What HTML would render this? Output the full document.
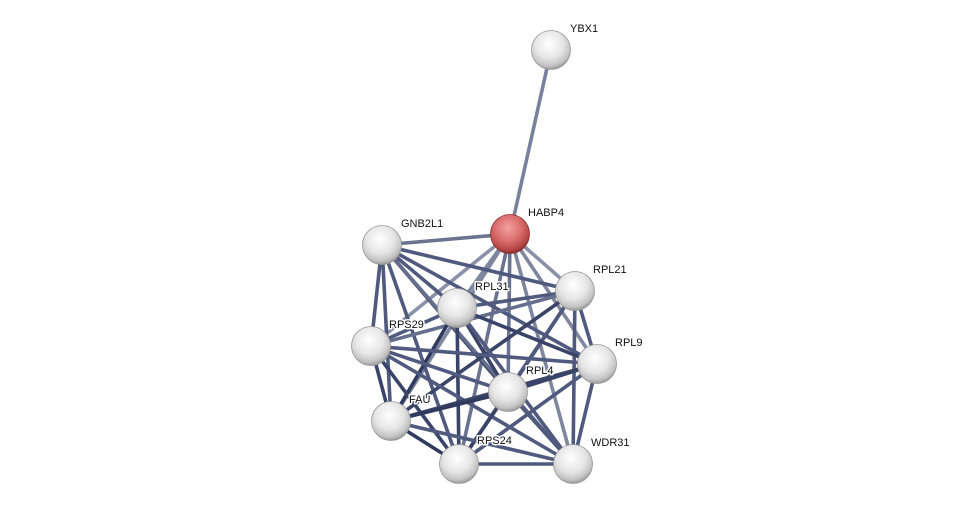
<!DOCTYPE html>
<html><head><meta charset="utf-8"><style>
html,body{margin:0;padding:0;background:#fff;}
svg{display:block}
text{font-family:"Liberation Sans",sans-serif;font-size:11px;fill:#111;stroke:#fff;stroke-width:3px;paint-order:stroke;stroke-linejoin:round}
</style></head><body>
<svg width="975" height="510" viewBox="0 0 975 510" xmlns="http://www.w3.org/2000/svg">
<defs>
<radialGradient id="w" cx="45%" cy="35%" r="65%">
<stop offset="0" stop-color="#ffffff"/><stop offset="0.55" stop-color="#e6e6e6"/><stop offset="0.85" stop-color="#c4c4c4"/><stop offset="1" stop-color="#9a9a9a"/>
</radialGradient>
<radialGradient id="r" cx="45%" cy="35%" r="65%">
<stop offset="0" stop-color="#f4a0a0"/><stop offset="0.55" stop-color="#d96a6a"/><stop offset="0.85" stop-color="#b84848"/><stop offset="1" stop-color="#8a2e2e"/>
</radialGradient>
</defs>
<g stroke-width="3.6">
<line x1="551" y1="50" x2="510" y2="234" stroke="#7a819c"/>
<line x1="510" y1="234" x2="382" y2="245" stroke="#6a7390"/>
<line x1="510" y1="234" x2="575" y2="291" stroke="#8a91a8"/>
<line x1="510" y1="234" x2="457" y2="308" stroke="#7f879f"/>
<line x1="510" y1="234" x2="371" y2="346" stroke="#8a91a8"/>
<line x1="510" y1="234" x2="597" y2="364" stroke="#7f879f"/>
<line x1="510" y1="234" x2="508" y2="392" stroke="#6a7390"/>
<line x1="510" y1="234" x2="391" y2="421" stroke="#7f879f"/>
<line x1="510" y1="234" x2="459" y2="464" stroke="#6a7390"/>
<line x1="510" y1="234" x2="573" y2="464" stroke="#7f879f"/>
<line x1="382" y1="245" x2="575" y2="291" stroke="#4f5a7e"/>
<line x1="382" y1="245" x2="457" y2="308" stroke="#4f5a7e"/>
<line x1="382" y1="245" x2="371" y2="346" stroke="#4f5a7e"/>
<line x1="382" y1="245" x2="597" y2="364" stroke="#4f5a7e"/>
<line x1="382" y1="245" x2="508" y2="392" stroke="#3a4468"/>
<line x1="382" y1="245" x2="391" y2="421" stroke="#4f5a7e"/>
<line x1="382" y1="245" x2="459" y2="464" stroke="#4f5a7e"/>
<line x1="382" y1="245" x2="573" y2="464" stroke="#656e8c"/>
<line x1="575" y1="291" x2="457" y2="308" stroke="#4f5a7e"/>
<line x1="575" y1="291" x2="371" y2="346" stroke="#656e8c"/>
<line x1="575" y1="291" x2="597" y2="364" stroke="#4f5a7e"/>
<line x1="575" y1="291" x2="508" y2="392" stroke="#2f3a5e"/>
<line x1="575" y1="291" x2="391" y2="421" stroke="#3a4468"/>
<line x1="575" y1="291" x2="459" y2="464" stroke="#4f5a7e"/>
<line x1="575" y1="291" x2="573" y2="464" stroke="#4f5a7e"/>
<line x1="457" y1="308" x2="371" y2="346" stroke="#4f5a7e"/>
<line x1="457" y1="308" x2="597" y2="364" stroke="#3a4468"/>
<line x1="457" y1="308" x2="508" y2="392" stroke="#3a4468"/>
<line x1="457" y1="308" x2="391" y2="421" stroke="#2f3a5e"/>
<line x1="457" y1="308" x2="459" y2="464" stroke="#3a4468"/>
<line x1="457" y1="308" x2="573" y2="464" stroke="#4f5a7e"/>
<line x1="371" y1="346" x2="597" y2="364" stroke="#4f5a7e"/>
<line x1="371" y1="346" x2="508" y2="392" stroke="#4f5a7e"/>
<line x1="371" y1="346" x2="391" y2="421" stroke="#3a4468"/>
<line x1="371" y1="346" x2="459" y2="464" stroke="#3a4468"/>
<line x1="371" y1="346" x2="573" y2="464" stroke="#4f5a7e"/>
<line x1="597" y1="364" x2="508" y2="392" stroke="#3a4468"/>
<line x1="597" y1="364" x2="391" y2="421" stroke="#3a4468"/>
<line x1="597" y1="364" x2="459" y2="464" stroke="#4f5a7e"/>
<line x1="597" y1="364" x2="573" y2="464" stroke="#4f5a7e"/>
<line x1="508" y1="392" x2="391" y2="421" stroke="#2f3a5e"/>
<line x1="508" y1="392" x2="459" y2="464" stroke="#3a4468"/>
<line x1="508" y1="392" x2="573" y2="464" stroke="#4f5a7e"/>
<line x1="391" y1="421" x2="459" y2="464" stroke="#2f3a5e"/>
<line x1="391" y1="421" x2="573" y2="464" stroke="#4f5a7e"/>
<line x1="459" y1="464" x2="573" y2="464" stroke="#4f5a7e"/>
</g>
<g stroke="#999" stroke-width="0.8" fill="url(#w)">
<circle cx="551" cy="50" r="19.5"/>
<circle cx="382" cy="245" r="19.5"/>
<circle cx="575" cy="291" r="19.5"/>
<circle cx="457" cy="308" r="19.5"/>
<circle cx="371" cy="346" r="19.5"/>
<circle cx="597" cy="364" r="19.5"/>
<circle cx="508" cy="392" r="19.5"/>
<circle cx="391" cy="421" r="19.5"/>
<circle cx="459" cy="464" r="19.5"/>
<circle cx="573" cy="464" r="19.5"/>
<circle cx="510" cy="234" r="19.5" fill="url(#r)" stroke="#8a3030"/>
</g>
<g>
<text x="570" y="32">YBX1</text>
<text x="528" y="216">HABP4</text>
<text x="401" y="227">GNB2L1</text>
<text x="593" y="273">RPL21</text>
<text x="475" y="290">RPL31</text>
<text x="389" y="328">RPS29</text>
<text x="615" y="346">RPL9</text>
<text x="526" y="374">RPL4</text>
<text x="409" y="403">FAU</text>
<text x="477" y="444">RPS24</text>
<text x="591" y="446">WDR31</text>
</g>
</svg>
</body></html>
